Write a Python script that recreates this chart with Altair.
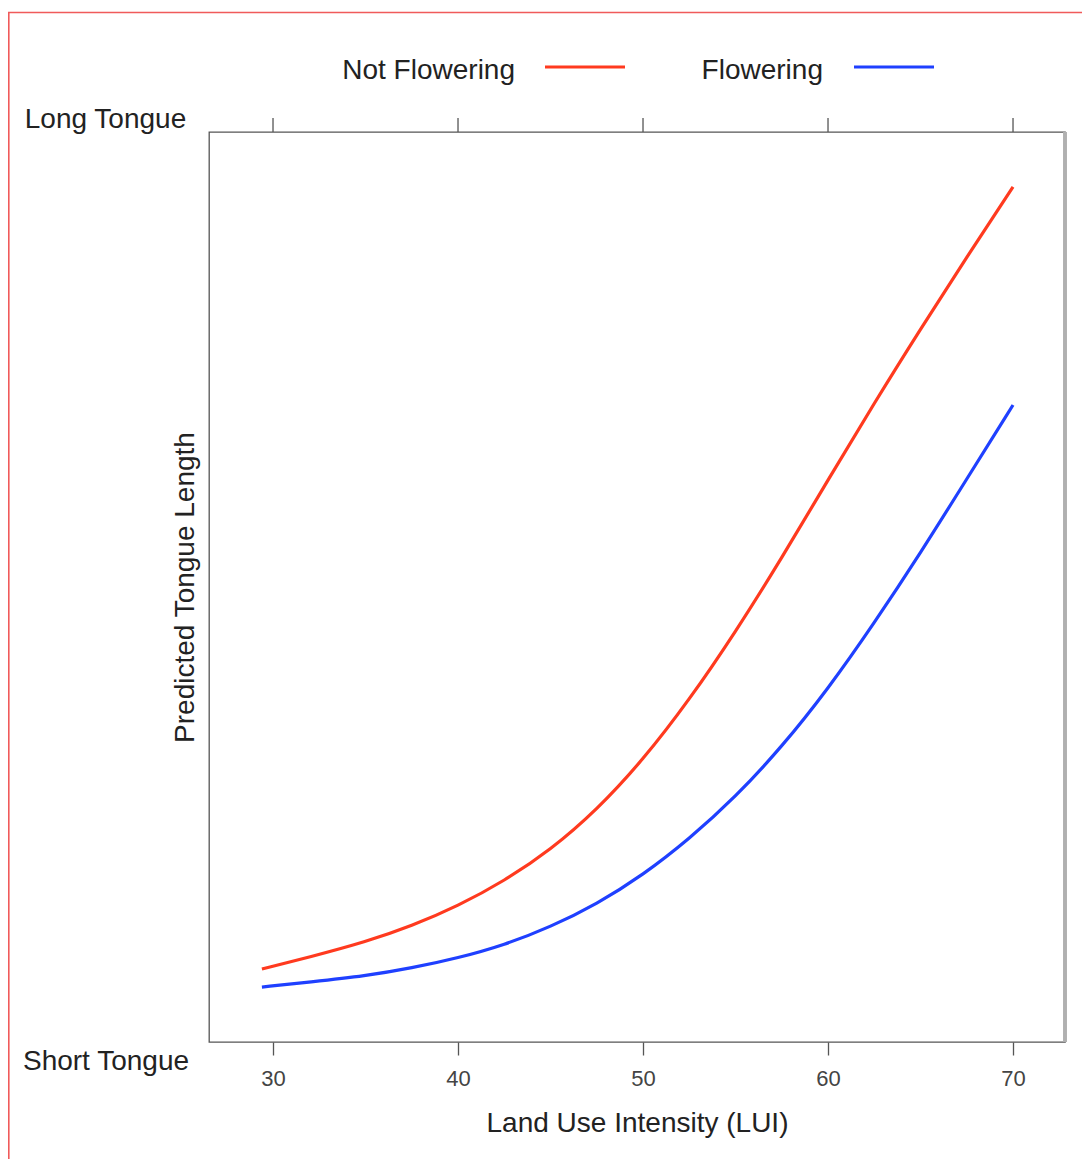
import altair as alt
import pandas as pd

# Data (predicted tongue length, 0 = short, 100 = long)
lui = [29.4, 32, 35, 37.5, 40, 42.5, 45, 47.5, 50, 52.5, 55, 57.5, 60, 62.5, 65, 67.5, 70]
not_flowering = [8.02, 9.34, 10.99, 12.75, 14.95, 17.69, 21.10, 25.49, 30.99, 37.58,
                 45.05, 53.19, 61.76, 70.22, 78.35, 86.26, 93.96]
flowering = [6.04, 6.59, 7.25, 8.13, 9.23, 10.66, 12.64, 15.16, 18.35, 22.31,
             26.92, 32.42, 38.79, 46.04, 53.74, 61.87, 70.00]
series = ["Not Flowering", "Flowering"]
colors = ["#ff3a1f", "#1f40ff"]
x_ticks = [30, 40, 50, 60, 70]
x_domain = [26.54, 72.81]
y_domain = [0, 100]

FONT = "Liberation Sans"

rows = []
for name, vals in zip(series, [not_flowering, flowering]):
    for x, y in zip(lui, vals):
        rows.append({"LUI": x, "Tongue": y, "Group": name})
df = pd.DataFrame(rows)
ticks_df = pd.DataFrame({"LUI": x_ticks})

xscale = alt.Scale(domain=x_domain, nice=False, zero=False)
yscale = alt.Scale(domain=y_domain, nice=False, zero=False)

lines = alt.Chart(df).mark_line(strokeWidth=3.2, interpolate="basis").encode(
    x=alt.X("LUI:Q", scale=xscale,
            axis=alt.Axis(values=x_ticks, title="Land Use Intensity (LUI)",
                          domain=False, grid=False, tickSize=13, tickColor="#555555",
                          tickWidth=1.3, labelFontSize=22, labelColor="#444444",
                          labelFont=FONT, labelPadding=13, titleFont=FONT,
                          titleFontSize=28, titleFontWeight="normal",
                          titleColor="#222222", titlePadding=20)),
    y=alt.Y("Tongue:Q", scale=yscale,
            axis=alt.Axis(title="Predicted Tongue Length", domain=False, ticks=False,
                          labels=False, grid=False, titleFont=FONT, titleFontSize=28,
                          titleFontWeight="normal", titleColor="#222222",
                          titlePadding=10)),
    color=alt.Color("Group:N", scale=alt.Scale(domain=series, range=colors), legend=None),
    detail="Group:N",
)

top_ticks = alt.Chart(ticks_df).mark_rule(color="#555555", strokeWidth=1.3).encode(
    x=alt.X("LUI:Q", scale=xscale),
    y=alt.value(-14),
    y2=alt.value(0),
)

right_edge = alt.Chart(ticks_df).mark_rule(color="#b0b0b0", strokeWidth=3).encode(
    x=alt.value(856), y=alt.value(0), y2=alt.value(910)
)

long_lbl = alt.Chart(pd.DataFrame({"t": ["Long Tongue"], "y": [y_domain[1]]})).mark_text(
    font=FONT, fontSize=28, color="#222222", align="center", baseline="alphabetic", dy=-4
).encode(x=alt.value(-103.5), y=alt.Y("y:Q", scale=yscale), text="t:N")

short_lbl = alt.Chart(pd.DataFrame({"t": ["Short Tongue"], "y": [y_domain[0]]})).mark_text(
    font=FONT, fontSize=28, color="#222222", align="center", baseline="alphabetic", dy=28
).encode(x=alt.value(-103), y=alt.Y("y:Q", scale=yscale), text="t:N")

def leg_text(label, xr):
    return alt.Chart(pd.DataFrame({"t": [label]})).mark_text(
        font=FONT, fontSize=28, color="#222222", align="right", baseline="alphabetic"
    ).encode(x=alt.value(xr), y=alt.value(-53), text="t:N")

def leg_line(color, x1, x2):
    return alt.Chart(pd.DataFrame({"t": [0]})).mark_rule(color=color, strokeWidth=3.2).encode(
        x=alt.value(x1), x2=alt.value(x2), y=alt.value(-65)
    )

legend = (leg_text(series[0], 306) + leg_line(colors[0], 336, 416)
          + leg_text(series[1], 614) + leg_line(colors[1], 645, 725))

border_left = alt.Chart(pd.DataFrame({"t": [0]})).mark_rule(color="#f05a5a", strokeWidth=1.6).encode(
    x=alt.value(-200.2), y=alt.value(-120), y2=alt.value(1035)
)
border_top = alt.Chart(pd.DataFrame({"t": [0]})).mark_rule(color="#f05a5a", strokeWidth=1.6).encode(
    x=alt.value(-201), x2=alt.value(881), y=alt.value(-119.5)
)

chart = alt.layer(
    lines, top_ticks, right_edge, long_lbl, short_lbl, legend, border_left, border_top
).properties(
    width=856, height=910,
    background="white",
    autosize=alt.AutoSizeParams(type="none"),
    padding={"left": 201, "top": 124, "right": 17, "bottom": 117},
).configure_view(
    stroke="#555555", strokeWidth=1.3
)

chart.save("out.html", embed_options={"renderer": "svg", "actions": False})
